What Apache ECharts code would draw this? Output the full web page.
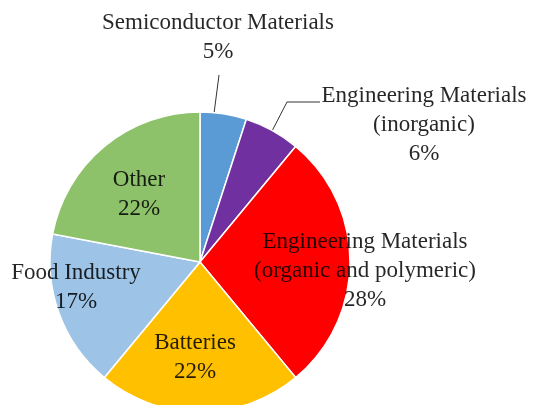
<!DOCTYPE html>
<html><head><meta charset="utf-8">
<script src="https://cdn.jsdelivr.net/npm/echarts@6/dist/echarts.min.js"></script>
<style>html,body{margin:0;padding:0;background:#fff}#c{width:544px;height:405px}</style>
</head><body><div id="c"></div>
<script>
// ---- data ----
const categories = ['Semiconductor Materials', 'Engineering Materials (inorganic)', 'Engineering Materials (organic and polymeric)', 'Batteries', 'Food Industry', 'Other'];
const labelTexts = ['Semiconductor Materials', 'Engineering Materials\n(inorganic)', 'Engineering Materials\n(organic and polymeric)', 'Batteries', 'Food Industry', 'Other'];
const shares = [5, 6, 28, 22, 17, 22];
const colors = ['#5B9BD5', '#7030A0', '#FF0000', '#FFC000', '#9DC3E6', '#8DC26B'];

// ---- layout / style ----
const CX = 200, CY = 262, R = 150;
const labelCenters = [[218, 37], [424, 125], [365, 271], [195, 357], [76, 287], [139, 194]];
const outsideIdx = [0, 1];
const lineAngleFrac = { 0: 0.3, 1: 0.5 };
const lineElbows = { 0: [[219, 75], [219, 75]], 1: [[287, 102], [320, 102]] };

const total = shares.reduce((a, b) => a + b, 0);
const starts = [];
let cum = 0;
shares.forEach(v => { starts.push(cum); cum += v; });

const chart = echarts.init(document.getElementById('c'), null, { renderer: 'canvas' });
chart.setOption({
  animation: false,
  series: [{
    type: 'pie',
    center: [CX, CY],
    radius: [0, R],
    startAngle: 90,
    clockwise: true,
    avoidLabelOverlap: false,
    emphasis: { disabled: true },
    itemStyle: { borderColor: '#ffffff', borderWidth: 1.5 },
    label: {
      fontFamily: 'Liberation Serif',
      fontSize: 23,
      lineHeight: 29,
      color: 'rgba(0,0,0,0.85)',
      formatter: p => labelTexts[p.dataIndex] + '\n' + p.value + '%'
    },
    labelLine: { lineStyle: { color: '#333333', width: 1 } },
    labelLayout: function (params) {
      const i = params.dataIndex;
      const res = { x: labelCenters[i][0], y: labelCenters[i][1], align: 'center', verticalAlign: 'middle' };
      if (outsideIdx.indexOf(i) >= 0) {
        const a = (starts[i] + shares[i] * lineAngleFrac[i]) / total * 2 * Math.PI;
        const p0 = [CX + R * Math.sin(a), CY - R * Math.cos(a)];
        res.labelLinePoints = [p0, lineElbows[i][0], lineElbows[i][1]];
      }
      return res;
    },
    data: categories.map((name, i) => ({
      name: name,
      value: shares[i],
      itemStyle: { color: colors[i] },
      label: { position: outsideIdx.indexOf(i) >= 0 ? 'outside' : 'inside' },
      labelLine: { show: outsideIdx.indexOf(i) >= 0 }
    }))
  }]
});
</script>
</body></html>
